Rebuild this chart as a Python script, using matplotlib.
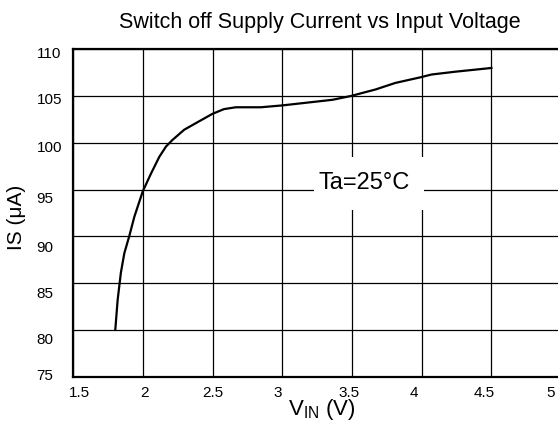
# Switch off supply current vs input voltage

# imports
# =======================
import matplotlib
matplotlib.use('Agg')
import matplotlib.pyplot as plt
from matplotlib.patches import Rectangle
from matplotlib.transforms import ScaledTranslation

# data
# =======================
vin = [1.80, 1.817, 1.84, 1.865, 1.90, 1.937, 1.997, 2.056, 2.116, 2.164, 2.21,
       2.295, 2.39, 2.498, 2.58, 2.665, 2.76, 2.845, 3.0, 3.24, 3.36, 3.49,
       3.668, 3.81, 3.99, 4.07, 4.24, 4.5]
i_s = [80.0, 83.2, 86.1, 88.2, 90.0, 92.1, 94.8, 96.7, 98.5, 99.6, 100.3,
       101.4, 102.2, 103.1, 103.6, 103.8, 103.8, 103.8, 104.0, 104.4, 104.6, 105.0,
       105.7, 106.4, 107.0, 107.3, 107.6, 108.0]

xticks = [1.5, 2, 2.5, 3, 3.5, 4, 4.5, 5]
xticklabels = ['1.5', '2', '2.5', '3', '3.5', '4', '4.5', '5']
yticks = [75, 80, 85, 90, 95, 100, 105, 110]
yticklabels = ['75', '80', '85', '90', '95', '100', '105', '110']

title = 'Switch off Supply Current vs Input Voltage'
note = 'Ta=25\u00b0C'

# label nudges in pixels (the original labels sit a bit off the grid)
x_nudge = [5.5, 1, 0, -4.5, -3, -7.7, -7, -10]
y_nudge = [2, -9, -9, -10, -8, -4, -2, -3]

# style
# =======================
plt.rcParams['font.family'] = ['Liberation Sans', 'DejaVu Sans']
plt.rcParams['mathtext.fontset'] = 'custom'
plt.rcParams['mathtext.rm'] = 'Liberation Sans'

fig = plt.figure(figsize=(5.58, 4.24), dpi=100)
ax = fig.add_axes([0.1317, 0.1116, 0.8737, 0.7722])

# curve
ax.plot(vin, i_s, color='black', linewidth=1.6, zorder=3)

ax.set_xlim(1.5, 5)
ax.set_ylim(75, 110)
ax.set_xticks(xticks)
ax.set_xticklabels(xticklabels)
ax.set_yticks(yticks)
ax.set_yticklabels(yticklabels)
ax.grid(True, color='black', linewidth=0.9)
ax.set_axisbelow(True)
ax.tick_params(axis='both', length=0, labelsize=11)
ax.tick_params(axis='x', pad=7)
ax.tick_params(axis='y', pad=26.6)
for lab in ax.get_yticklabels():
    lab.set_horizontalalignment('left')
for spine in ax.spines.values():
    spine.set_linewidth(1.6)

# nudge tick labels
for lab, dx in zip(ax.get_xticklabels(), x_nudge):
    lab.set_transform(lab.get_transform() + ScaledTranslation(dx / 100, 0, fig.dpi_scale_trans))
for lab, dy in zip(ax.get_yticklabels(), y_nudge):
    lab.set_transform(lab.get_transform() + ScaledTranslation(0, dy / 100, fig.dpi_scale_trans))

# annotation with white box over the grid
ax.add_patch(Rectangle((0.493, 0.509), 0.226, 0.162, transform=ax.transAxes,
                       facecolor='white', edgecolor='none', zorder=2))
ax.text(0.597, 0.591, note, transform=ax.transAxes, fontsize=17,
        ha='center', va='center', zorder=4)

# titles and labels
fig.text(0.5735, 0.934, title, fontsize=15.5, ha='center', va='baseline')
fig.text(0.577, 0.021, r'V$_{\mathrm{IN}}$ (V)', fontsize=16, ha='center', va='baseline')
fig.text(0.030, 0.488, 'IS (\u03bcA)', fontsize=15, rotation=90, ha='center', va='center')

fig.savefig('out.png', dpi=100)
